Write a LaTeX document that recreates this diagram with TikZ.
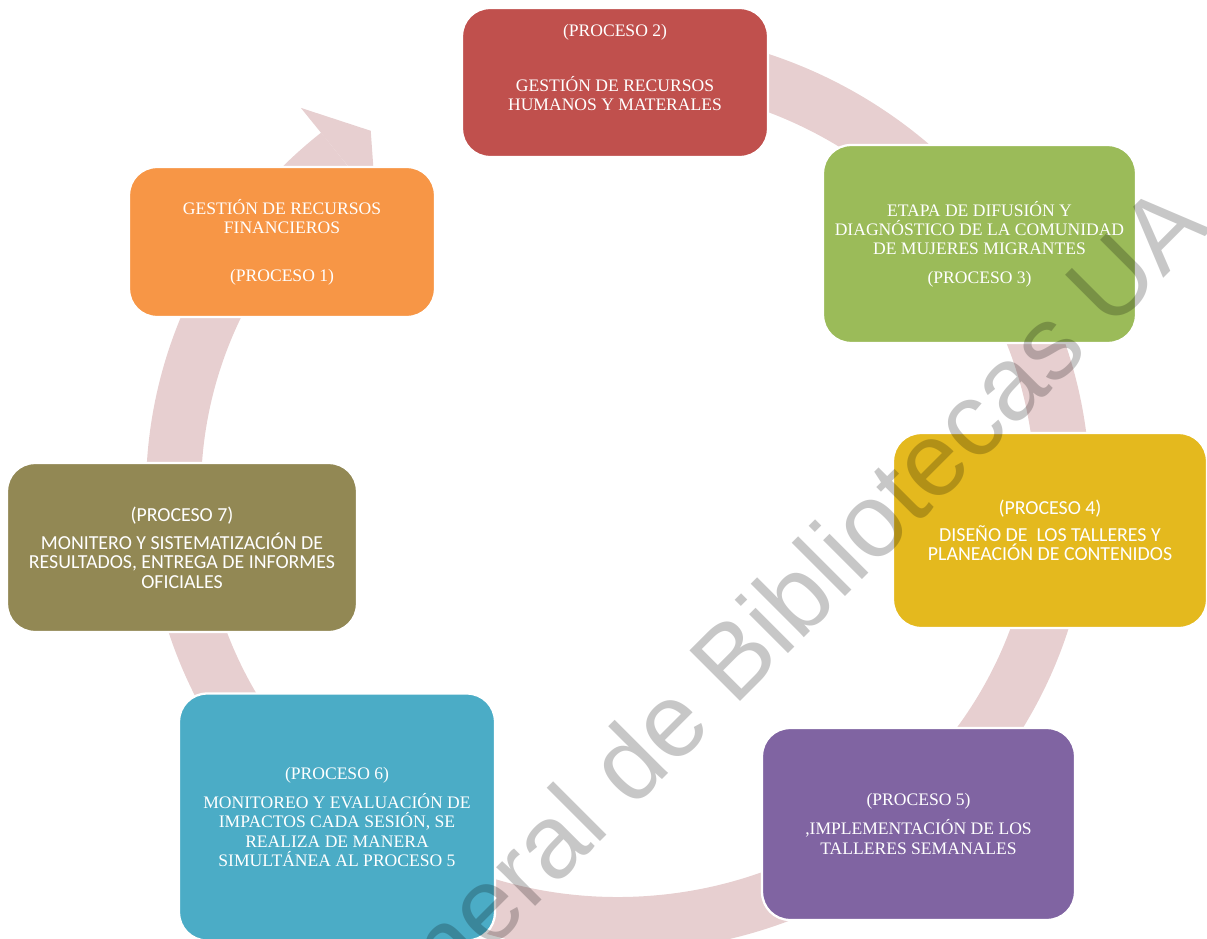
\documentclass[tikz,border=0pt]{standalone}
\usepackage{fontspec}
\setmainfont{Liberation Serif}
\newfontfamily\calibfont{Carlito}
\newfontfamily\markfont{Liberation Sans}
\usepackage{tikz}
\definecolor{ringpink}{RGB}{231,207,208}
\definecolor{procred}{RGB}{192,80,77}
\definecolor{procgreen}{RGB}{155,187,89}
\definecolor{procorange}{RGB}{247,150,70}
\definecolor{procyellow}{RGB}{228,185,30}
\definecolor{procolive}{RGB}{146,136,84}
\definecolor{proccyan}{RGB}{75,172,198}
\definecolor{procpurple}{RGB}{128,100,162}
\tikzset{
	proc/.style={rectangle, rounded corners=0.56cm, draw=white, line width=1.3pt,
		text=white, align=center, inner sep=0pt, font=\fontsize{10}{11}\selectfont},
	procsans/.style={proc, font=\calibfont\fontsize{11.3}{11}\selectfont},
	wmark/.style={font=\markfont\fontsize{59.2}{62}\selectfont, text=black, text opacity=0.22, rotate=45},
}

\begin{document}
\begin{tikzpicture}[x=0.02cm, y=-0.02cm]
	\useasboundingbox (0,0) rectangle (1207,939);

	% the cycle arrow behind the boxes
	\begin{scope}[shift={(618,491)}]
		\draw[ringpink, line width=1.1cm] (-95:444.5 and 433.5)
			arc[start angle=-95, end angle=231, x radius=444.5, y radius=433.5];
		\fill[ringpink] (231:504 and 493) -- (236.2:444.5 and 433.5) -- (231:385 and 374) -- cycle;
	\end{scope}

	\node[proc, fill=procred, minimum width=6.12cm, minimum height=2.98cm] (p2) at (615,82.5)
		{(PROCESO 2)\\[20pt]GESTIÓN DE RECURSOS\\HUMANOS Y MATERALES\\[6pt]\mbox{}};
	\node[proc, fill=procgreen, minimum width=6.26cm, minimum height=3.96cm] (p3) at (979.5,244)
		{ETAPA DE DIFUSIÓN Y\\DIAGNÓSTICO DE LA COMUNIDAD\\DE MUJERES MIGRANTES\\[5pt](PROCESO 3)};
	\node[proc, fill=procorange, minimum width=6.12cm, minimum height=3cm] (p1) at (282,242)
		{GESTIÓN DE RECURSOS\\FINANCIEROS\\[16pt](PROCESO 1)};
	\node[procsans, fill=procyellow, minimum width=6.28cm, minimum height=3.9cm] (p4) at (1050,530.5)
		{(PROCESO 4)\\[4pt]DISEÑO DE\ \ LOS TALLERES Y\\PLANEACIÓN DE CONTENIDOS};
	\node[procsans, fill=procolive, minimum width=7cm, minimum height=3.38cm] (p7) at (182,547.5)
		{(PROCESO 7)\\[4pt]MONITERO Y SISTEMATIZACIÓN DE\\RESULTADOS, ENTREGA DE INFORMES\\OFICIALES};
	\node[proc, fill=proccyan, minimum width=6.32cm, minimum height=4.94cm] (p6) at (337,817)
		{(PROCESO 6)\\[5.5pt]MONITOREO Y EVALUACIÓN DE\\IMPACTOS CADA SESIÓN, SE\\REALIZA DE MANERA\\SIMULTÁNEA AL PROCESO 5};
	\node[proc, fill=procpurple, minimum width=6.26cm, minimum height=3.84cm] (p5) at (918.5,824)
		{(PROCESO 5)\\[5.5pt],IMPLEMENTACIÓN DE LOS\\TALLERES SEMANALES};

	% watermark
	\begin{scope}
		\clip (0,0) rectangle (1207,939);
		\node[wmark, anchor=base west] (wm) at (346,1096) {General de Bibliotecas UA};
	\end{scope}
\end{tikzpicture}
\end{document}
